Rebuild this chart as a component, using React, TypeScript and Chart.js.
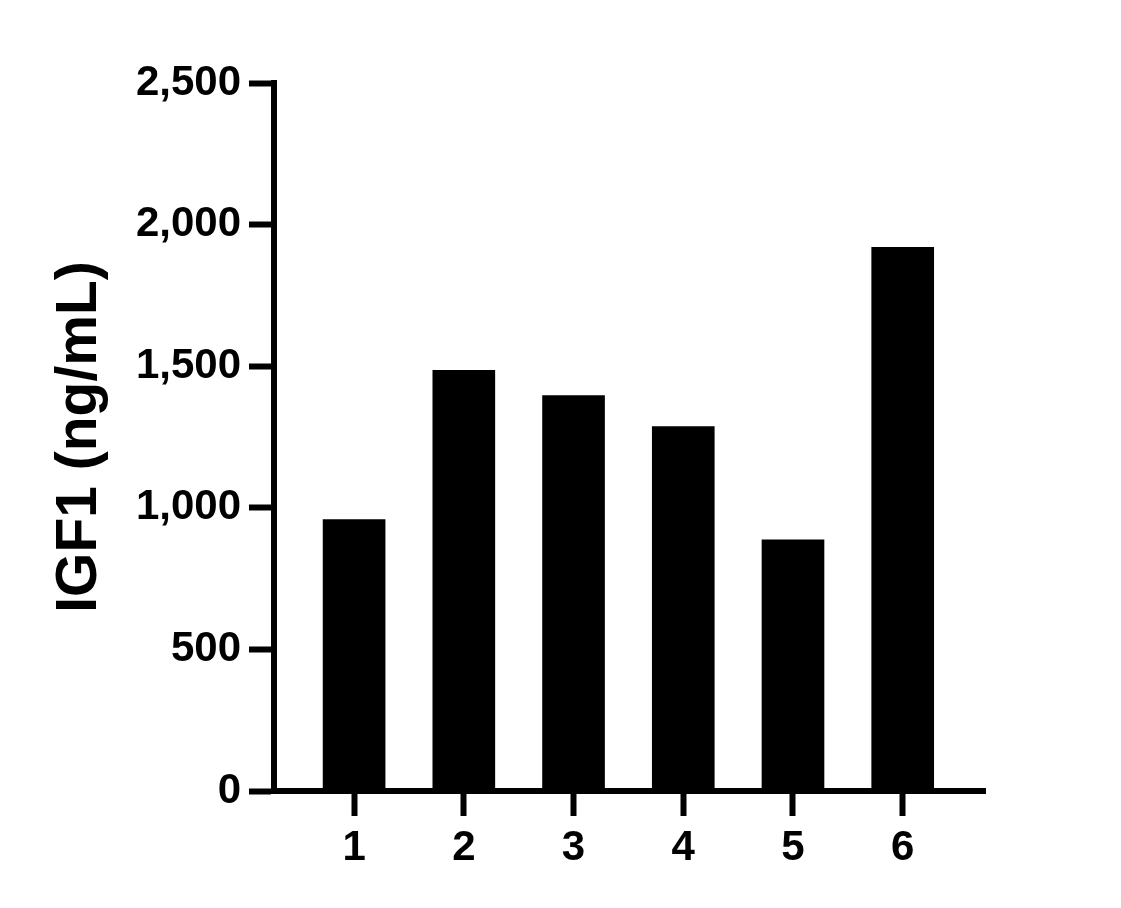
import { useEffect, useRef } from "react";
import { Chart, registerables } from "chart.js";

Chart.register(...registerables);

// sample numbers on the x axis
const categories = [1, 2, 3, 4, 5, 6];
// IGF1 (ng/mL)
const igf1Values = [958, 1485, 1396, 1287, 887, 1920];
const yTicks = [0, 500, 1000, 1500, 2000, 2500];

const FONT = "'Liberation Sans', Arial, Helvetica, sans-serif";

function App() {
  const canvasRef = useRef<HTMLCanvasElement | null>(null);
  const chartInstance = useRef<Chart | null>(null);

  useEffect(() => {
    document.body.style.margin = "0";
    if (!canvasRef.current) return;

    chartInstance.current = new Chart(canvasRef.current, {
      type: "bar",
      data: {
        datasets: [
          {
            label: "IGF1",
            data: categories.map((c, i) => ({ x: c, y: igf1Values[i] })),
            backgroundColor: "#000000",
            borderWidth: 0,
            barThickness: 62,
          },
        ],
      },
      options: {
        responsive: false,
        animation: false,
        layout: { padding: { top: 83, right: 136, bottom: 0, left: 0 } },
        plugins: {
          legend: { display: false },
          tooltip: { enabled: false },
        },
        scales: {
          x: {
            type: "linear",
            min: 0.27,
            max: 6.75,
            offset: false,
            afterBuildTicks: (scale: any) => {
              scale.ticks = categories.map((v) => ({ value: v }));
            },
            afterFit: (scale: any) => {
              scale.height = 117;
            },
            border: { display: true, color: "#000000", width: 6 },
            grid: {
              offset: false,
              drawOnChartArea: false,
              drawTicks: true,
              tickLength: 25,
              tickWidth: 6,
              tickColor: "#000000",
            },
            ticks: {
              color: "#000000",
              padding: 7,
              autoSkip: false,
              maxRotation: 0,
              font: { family: FONT, size: 42, weight: "bold" },
              callback: (v: any) => String(v),
            },
          },
          y: {
            min: 0,
            max: 2500,
            afterBuildTicks: (scale: any) => {
              scale.ticks = yTicks.map((v) => ({ value: v }));
            },
            afterFit: (scale: any) => {
              scale.width = 274;
            },
            border: { display: true, color: "#000000", width: 6 },
            grid: {
              drawOnChartArea: false,
              drawTicks: true,
              tickLength: 25,
              tickWidth: 6,
              tickColor: "#000000",
            },
            ticks: {
              color: "#000000",
              padding: 8,
              font: { family: FONT, size: 42, weight: "bold" },
              callback: (v: any) => Number(v).toLocaleString("en-US"),
            },
            title: {
              display: true,
              text: "IGF1 (ng/mL)",
              color: "#000000",
              padding: { top: 46, bottom: 0 },
              font: { family: FONT, size: 57, weight: "bold" },
            },
          },
        },
      },
    });

    return () => {
      if (chartInstance.current) {
        chartInstance.current.destroy();
        chartInstance.current = null;
      }
    };
  }, []);

  return (
    <div style={{ width: 1121, height: 908, background: "#ffffff" }}>
      <canvas ref={canvasRef} width={1121} height={908} style={{ display: "block" }} />
    </div>
  );
}

export default App;
